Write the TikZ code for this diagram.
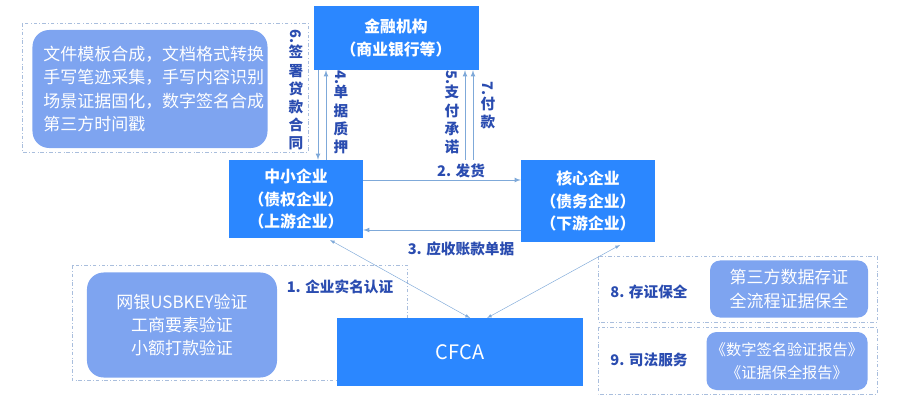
\documentclass[tikz,border=0pt]{standalone}
\usepackage{fontspec}
\setmainfont{Noto Sans CJK SC}
\usetikzlibrary{positioning}
\definecolor{boxblue}{HTML}{2B87FF}
\definecolor{softblue}{HTML}{7EA4F0}
\definecolor{linkblue}{HTML}{7FA9D9}
\definecolor{textblue}{HTML}{2A4CB0}
\definecolor{framegray}{HTML}{A9BEDD}
\newcommand{\stepno}[1]{\rotatebox{-90}{#1}}
\tikzset{
  org/.style = {rectangle, fill=boxblue, text=white, align=center, font=\fontsize{13.5}{19}\selectfont\bfseries},
  soft/.style = {rectangle, rounded corners=0.5cm, fill=softblue, text=white, align=center, font=\fontsize{14.5}{20}\selectfont},
  frame/.style = {draw=framegray, dash dot, thick},
  lab/.style = {text=textblue, font=\fontsize{12.5}{14}\selectfont\bfseries, inner sep=1pt},
  vlab/.style = {lab, align=center, font=\fontsize{12.5}{15.5}\selectfont\bfseries},
  link/.style = {draw=linkblue, thick, -latex},
}
\begin{document}
\begin{tikzpicture}[x=0.03cm, y=-0.03cm]
  \useasboundingbox (0,0) rectangle (900,401);

  % frames
  \draw [frame] (22,23) rectangle (308,152);
  \draw [frame] (72,265) rectangle (407,380);
  \draw [frame] (598,256) rectangle (877,322);
  \draw [frame] (598,327) rectangle (877,394);

  % main parties
  \node [org, minimum width=4.95cm, minimum height=1.92cm] (bank) at (396,38)
  {金融机构\\（商业银行等）};
  \node [org, minimum width=4.02cm, minimum height=2.34cm] (sme) at (296,199)
  {中小企业\\（债权企业）\\（上游企业）};
  \node [org, minimum width=4.02cm, minimum height=2.46cm] (core) at (588,201)
  {核心企业\\（债务企业）\\（下游企业）};
  \node [org, minimum width=7.35cm, minimum height=2.01cm,
  font=\fontsize{17}{20}\selectfont] (cfca) at (460,352) {CFCA};

  % service boxes
  \node [soft, minimum width=7.05cm, minimum height=3.54cm, align=left,
  text width=6.4cm] (docs) at (150,89)
  {文件模板合成，文档格式转换\\手写笔迹采集，手写内容识别\\场景证据固化，数字签名合成\\第三方时间戳};
  \node [soft, minimum width=5.7cm, minimum height=3.15cm] (auth) at (182,325)
  {网银USBKEY验证\\工商要素验证\\小额打款验证};
  \node [soft, minimum width=4.74cm, minimum height=1.71cm, rounded corners=0.3cm] (store) at (789,289)
  {第三方数据存证\\全流程证据保全};
  \node [soft, minimum width=4.83cm, minimum height=1.74cm, rounded corners=0.3cm,
  font=\fontsize{13}{20}\selectfont] (court) at (787,361)
  {《数字签名验证报告》\\《证据保全报告》};

  % flows
  \draw [link] (bank.south -| 318,0) -- (sme.north -| 318,0);
  \draw [link] (sme.north -| 326,0) -- (bank.south -| 326,0);
  \draw [link] (core.north -| 465,0) -- (bank.south -| 465,0);
  \draw [link] (core.north -| 473,0) -- (bank.south -| 473,0);
  \draw [link] (sme.east |- 0,180) -- (core.west |- 0,180);
  \draw [link] (core.west |- 0,230) -- (sme.east |- 0,230);
  \draw [draw=linkblue, latex-latex] (330,240) -- (470,318);
  \draw [draw=linkblue, latex-latex] (620,245) -- (487,318);

  % labels
  \node [vlab] (l6) at (296,90) {\stepno{6.}\\签\\署\\贷\\款\\合\\同};
  \node [vlab] (l4) at (341,112) {\stepno{4.}\\单\\据\\质\\押};
  \node [vlab] (l5) at (452,112) {\stepno{5.}\\支\\付\\承\\诺};
  \node [vlab] (l7) at (488,105) {\stepno{7.}\\付\\款};
  \node [lab] (l2) at (461,171) {2. 发货};
  \node [lab] (l3) at (461,249) {3. 应收账款单据};
  \node [lab] (l1) at (340,287) {1. 企业实名认证};
  \node [lab] (l8) at (649,292) {8. 存证保全};
  \node [lab] (l9) at (649,360) {9. 司法服务};
\end{tikzpicture}
\end{document}
